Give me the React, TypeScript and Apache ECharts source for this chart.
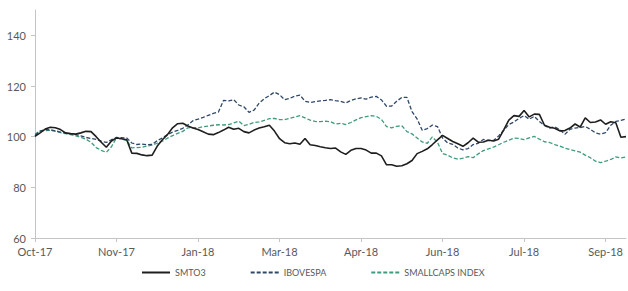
import React, { useEffect, useRef } from "react";
import * as echarts from "echarts";

const tickLabels = ["Oct-17", "Nov-17", "Jan-18", "Mar-18", "Apr-18", "Jun-18", "Jul-18", "Sep-18"];
const labelStep = 16;

const smto3 = [
  100.1, 101.5, 103.0, 103.7, 103.5, 102.8, 101.5, 101.2, 101.0, 101.5,
  102.1, 102.0, 100.0, 97.8, 95.8, 98.3, 99.5, 99.2, 98.8, 93.5,
  93.4, 92.8, 92.5, 92.7, 96.3, 98.8, 100.8, 103.5, 105.1, 105.3,
  104.2, 103.4, 102.8, 101.9, 101.0, 100.8, 101.6, 102.6, 103.7, 102.9,
  103.3, 102.0, 101.5, 102.6, 103.4, 103.9, 104.5, 102.2, 99.2, 97.6,
  97.2, 97.5, 97.0, 99.3, 96.8, 96.5, 96.0, 95.6, 95.3, 95.5,
  94.0, 93.0, 94.6, 95.3, 95.3, 94.7, 93.5, 93.5, 92.4, 88.9,
  88.9, 88.3, 88.5, 89.3, 90.6, 93.3, 94.2, 95.2, 96.9, 98.7,
  100.5, 99.3, 98.1, 97.2, 96.2, 97.6, 99.4, 97.8, 97.9, 98.6,
  98.3, 99.0, 102.7, 106.5, 108.3, 108.0, 110.3, 107.8, 108.9, 108.8,
  104.5, 103.7, 103.3, 102.3, 102.4, 103.4, 105.0, 103.8, 107.4, 105.6,
  105.8, 106.6, 104.9, 105.9, 105.5, 99.8, 100.0,
];

const ibovespa = [
  100.5, 102.2, 102.8, 102.7, 102.3, 101.8, 101.4, 101.1, 100.8, 100.3,
  99.7, 99.3, 98.9, 98.2, 97.7, 98.8, 99.7, 99.6, 99.5, 97.5,
  96.9, 97.1, 96.8, 97.0, 98.4, 99.5, 100.8, 101.8, 102.5, 103.3,
  104.6, 106.3, 106.9, 107.6, 108.4, 109.2, 109.7, 114.3, 114.1, 114.6,
  112.5, 111.8, 109.6, 110.5, 113.2, 115.0, 116.2, 117.6, 116.6, 114.6,
  115.1, 116.0, 116.4, 114.0, 113.5, 113.8, 114.1, 114.3, 114.6, 114.2,
  113.9, 113.3, 114.3, 114.9, 115.3, 114.8, 115.6, 115.9, 114.5, 112.0,
  112.1, 114.0, 115.5, 115.5, 109.9, 107.0, 102.5, 103.2, 104.6, 104.0,
  99.5, 97.5, 97.0, 95.5, 94.8, 95.3, 96.9, 97.4, 98.9, 98.5,
  98.5, 100.3, 102.5, 104.8, 105.8, 107.2, 108.3, 106.9, 108.0, 106.0,
  104.4, 103.4, 103.9, 102.8, 100.9, 102.9, 103.4, 103.6, 104.0, 102.9,
  101.5, 101.0, 101.6, 104.5, 106.0, 106.4, 107.0,
];

const smallcaps = [
  101.0, 102.3, 102.4, 102.5, 102.2, 101.6, 101.2, 100.8, 100.3, 99.8,
  99.0, 97.8, 95.7, 94.6, 93.8, 96.0, 99.6, 99.0, 98.5, 95.6,
  95.7, 95.8, 96.3, 96.7, 97.4, 98.2, 99.4, 100.4, 101.3, 102.1,
  103.5, 103.6, 103.5, 103.9, 104.2, 104.5, 104.7, 104.6, 104.8, 105.4,
  106.1, 104.4, 104.9, 105.6, 105.8, 106.4, 107.1, 107.2, 106.7, 106.7,
  107.2, 107.8, 108.3, 107.4, 106.5, 106.0, 105.9, 106.1, 105.9, 105.0,
  105.3, 104.8, 105.6, 106.6, 107.5, 107.9, 108.3, 108.0, 106.8, 104.0,
  103.5, 104.1, 104.3, 102.0, 101.1, 99.5, 97.9, 97.4, 99.9, 97.8,
  93.3, 92.7, 91.6, 91.1, 91.5, 92.1, 91.7, 93.2, 94.5, 95.2,
  95.9, 96.8, 97.8, 98.6, 99.4, 99.3, 98.8, 99.5, 100.1, 99.0,
  98.0, 97.7, 96.9, 96.3, 95.5, 94.9, 94.4, 93.9, 92.7, 91.7,
  90.3, 89.8, 90.3, 91.0, 92.0, 91.6, 92.0,
];

const yTicks = [60, 80, 100, 120, 140];

const FONT = "Lato, 'Open Sans', sans-serif";

export default function App() {
  const ref = useRef<HTMLDivElement>(null);

  useEffect(() => {
    if (!ref.current) return;
    const chart = echarts.init(ref.current, null, { renderer: "svg" });
    const categories = smto3.map((_, i) =>
      i % labelStep === 0 && tickLabels[i / labelStep] ? tickLabels[i / labelStep] : ""
    );
    const axisColor = "#c4c4c4";
    const textColor = "#595959";
    chart.setOption({
      animation: false,
      backgroundColor: "#ffffff",
      grid: { left: 35, right: 2, top: 10, bottom: 53, containLabel: false },
      legend: {
        left: 136,
        top: 263,
        itemWidth: 28,
        itemHeight: 10,
        itemGap: 44,
        itemStyle: { opacity: 0 },
        textStyle: { fontFamily: FONT, fontSize: 9, color: textColor },
        data: ["SMTO3", "IBOVESPA", "SMALLCAPS INDEX"],
      },
      xAxis: {
        type: "category",
        boundaryGap: false,
        data: categories,
        axisLine: { lineStyle: { color: axisColor, width: 1 } },
        axisTick: { show: true, interval: labelStep - 1, length: 4, lineStyle: { color: axisColor } },
        axisLabel: {
          interval: labelStep - 1,
          fontFamily: FONT,
          fontSize: 11,
          color: textColor,
          margin: 8,
        },
        splitLine: { show: false },
      },
      yAxis: {
        type: "value",
        min: 60,
        max: 150,
        axisLine: { show: true, lineStyle: { color: axisColor, width: 1 } },
        axisTick: { show: true, length: 4, customValues: yTicks, lineStyle: { color: axisColor } },
        axisLabel: {
          customValues: yTicks,
          fontFamily: FONT,
          fontSize: 11,
          color: textColor,
          margin: 9,
        },
        splitLine: { show: false },
      },
      series: [
        {
          name: "SMTO3",
          type: "line",
          data: smto3,
          showSymbol: false,
          symbol: "none",
          lineStyle: { color: "#1e1e1e", width: 1.6 },
          itemStyle: { color: "#1e1e1e" },
          z: 3,
        },
        {
          name: "IBOVESPA",
          type: "line",
          data: ibovespa,
          showSymbol: false,
          symbol: "none",
          lineStyle: { color: "#2f4868", width: 1.3, type: [4, 2] },
          itemStyle: { color: "#2f4868" },
          z: 2,
        },
        {
          name: "SMALLCAPS INDEX",
          type: "line",
          data: smallcaps,
          showSymbol: false,
          symbol: "none",
          lineStyle: { color: "#3e9c7c", width: 1.3, type: [4, 2] },
          itemStyle: { color: "#3e9c7c" },
          z: 1,
        },
      ],
    });
    return () => chart.dispose();
  }, []);

  return <div ref={ref} style={{ width: 628, height: 291, position: "absolute", left: 0, top: 0 }} />;
}
